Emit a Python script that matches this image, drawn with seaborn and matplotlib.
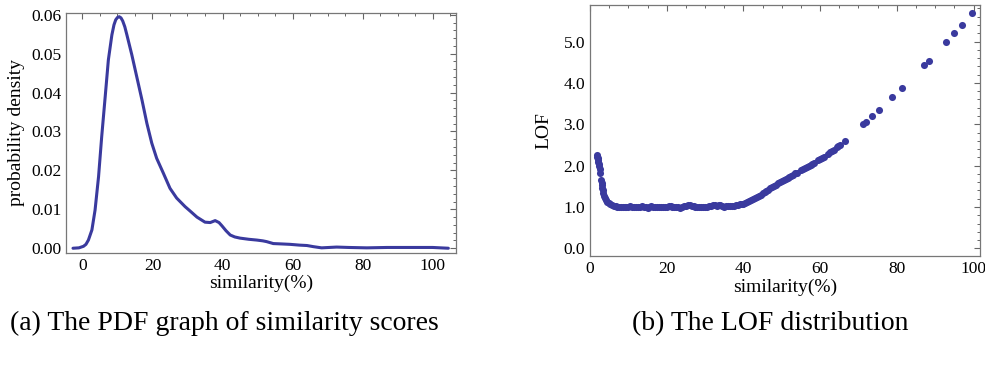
import matplotlib
matplotlib.use("Agg")
import matplotlib.pyplot as plt
from matplotlib.ticker import MultipleLocator, FormatStrFormatter
import pandas as pd
import seaborn as sns

# (a) PDF of similarity scores
pdf_x = [-2.7, -1.0, 0.3, 1.0, 1.7, 2.7, 3.6, 4.6, 5.5, 6.5, 7.4, 8.4, 9.0, 9.5,
         10.0, 10.5, 11.0, 11.5, 12.1, 12.7, 14.1, 15.5, 17.0, 18.4, 19.8, 21.2,
         23.1, 25.0, 26.9, 29.3, 30.7, 32.7, 35.0, 36.5, 37.9, 39.0, 39.8, 41.0,
         42.2, 43.5, 45.0, 47.5, 49.8, 51.5, 52.6, 54.5, 57.0, 59.3, 62.0, 64.1,
         66.0, 68.3, 72.6, 76.0, 81.2, 87.0, 93.0, 100.0, 104.5]
pdf_y = [0.0000, 0.0001, 0.0005, 0.0010, 0.0021, 0.0047, 0.0098, 0.0184, 0.0287,
         0.0390, 0.0484, 0.0548, 0.0574, 0.0587, 0.0593, 0.0595, 0.0592, 0.0584,
         0.0569, 0.0548, 0.0497, 0.0441, 0.0381, 0.0321, 0.0270, 0.0231, 0.0193,
         0.0154, 0.0129, 0.0107, 0.0096, 0.0080, 0.0067, 0.0066, 0.0071, 0.0066,
         0.0058, 0.0045, 0.0034, 0.0029, 0.0026, 0.0023, 0.0021, 0.0019, 0.0017,
         0.0012, 0.0011, 0.0010, 0.0008, 0.0007, 0.0004, 0.0001, 0.0003, 0.0002,
         0.0001, 0.0002, 0.0002, 0.0002, 0.0000]

# (b) LOF vs similarity, one value per dot
lof_x = [1.8, 1.9, 2.0, 2.1, 2.2, 2.3, 2.4, 2.5, 2.7, 2.9, 3.0, 3.1, 3.2, 3.3,
         3.5, 3.7, 3.9, 4.2, 4.5, 4.9, 5.3, 5.8, 6.3, 6.7,
         7.0, 7.5, 8.0, 8.5, 9.0, 9.5, 10.0, 10.5, 11.0, 11.5, 12.0, 12.5, 13.0,
         13.5, 14.0, 14.5, 15.0, 15.5, 16.0, 16.5, 17.0, 17.5, 18.0, 18.5, 19.0,
         19.5, 20.0, 20.5, 21.0, 21.5, 22.0, 22.5, 23.0, 23.5, 24.0, 24.5, 25.0,
         25.5, 26.0, 26.5, 27.0, 27.5, 28.0, 28.5, 29.0, 29.5, 30.0, 30.5, 31.0,
         31.5, 32.0, 32.5, 33.0, 33.5, 34.0, 34.5, 35.0, 35.5, 36.0, 36.5, 37.0,
         37.5, 38.0,
         38.5, 39.0, 39.5, 40.0, 40.5, 41.0, 41.5, 42.0, 42.5, 43.0, 43.5, 44.0,
         44.5, 45.0, 45.5, 46.0, 46.5, 47.0, 47.5, 48.0, 48.5, 49.0, 49.5, 50.0,
         50.5, 51.0, 51.5, 52.0, 52.5, 53.0, 53.5, 54.0, 55.0, 55.5, 56.0, 56.5,
         57.0, 57.5, 58.0, 58.5, 59.5, 60.0, 60.5, 61.0, 62.0, 62.5, 63.0, 63.5,
         64.3, 64.7, 65.2, 66.4,
         71.1, 72.0, 73.5, 75.4, 78.8, 81.3, 87.1, 88.3, 92.9, 95.0, 97.0, 99.6]
lof_y = [2.26, 2.22, 2.18, 2.13, 2.08, 2.03, 1.98, 1.92, 1.81, 1.65, 1.58, 1.52,
         1.46, 1.40, 1.33, 1.27, 1.22, 1.17, 1.13, 1.09, 1.07, 1.05, 1.03, 1.02,
         1.01, 1.00, 1.00, 1.00, 0.99, 1.00, 1.00, 1.02, 1.01, 1.00, 1.00, 0.99,
         1.01, 1.02, 1.01, 0.99, 0.98, 1.00, 1.02, 1.01, 1.00, 0.99, 1.00, 1.01,
         1.00, 1.00, 1.01, 1.02, 1.02, 1.01, 1.00, 1.01, 0.99, 0.98, 1.00, 1.02,
         1.03, 1.04, 1.04, 1.03, 1.02, 1.01, 1.00, 0.99, 0.99, 1.00, 1.00, 1.01,
         1.02, 1.03, 1.04, 1.04, 1.03, 1.04, 1.04, 1.02, 1.01, 1.02, 1.02, 1.02,
         1.03, 1.03, 1.04,
         1.05, 1.06, 1.07, 1.08, 1.10, 1.12, 1.14, 1.16, 1.19, 1.21, 1.24, 1.27,
         1.30, 1.33, 1.36, 1.39, 1.42, 1.45, 1.48, 1.51, 1.54, 1.57, 1.60, 1.62,
         1.65, 1.68, 1.70, 1.73, 1.76, 1.78, 1.81, 1.83, 1.89, 1.92, 1.94, 1.97,
         2.00, 2.02, 2.05, 2.07, 2.13, 2.16, 2.19, 2.22, 2.29, 2.32, 2.35, 2.38,
         2.44, 2.47, 2.51, 2.60,
         3.00, 3.05, 3.20, 3.34, 3.65, 3.87, 4.43, 4.53, 4.98, 5.21, 5.41, 5.69]

captions = ["(a) The PDF graph of similarity scores", "(b) The LOF distribution"]
x_label = "similarity(%)"
y_labels = ["probability density", "LOF"]

COLOR = "#3a3a9e"


def style_axes(ax, xminor, yminor):
    ax.xaxis.set_minor_locator(MultipleLocator(xminor))
    ax.yaxis.set_minor_locator(MultipleLocator(yminor))
    ax.tick_params(which="both", direction="in", top=True, right=True,
                   colors="#666666", labelcolor="black", labelsize=12.5)
    ax.tick_params(which="major", length=4, width=0.8)
    ax.tick_params(which="minor", length=2.5, width=0.7)
    for sp in ax.spines.values():
        sp.set_visible(True)
        sp.set_color("#777777")
        sp.set_linewidth(0.9)
    ax.grid(False)


def main() -> int:
    sns.set_theme(style="white")
    plt.rcParams["font.family"] = ["Liberation Serif", "DejaVu Serif"]
    plt.rcParams["text.color"] = "black"
    plt.rcParams["axes.labelcolor"] = "black"

    fig = plt.figure(figsize=(9.85, 3.66), dpi=100)
    ax1 = fig.add_axes([0.067, 0.309, 0.396, 0.656])
    ax2 = fig.add_axes([0.599, 0.300, 0.396, 0.686])

    pdf = pd.DataFrame({"x": pdf_x, "y": pdf_y})
    sns.lineplot(data=pdf, x="x", y="y", ax=ax1, color=COLOR, linewidth=2.2)
    ax1.set_xlim(-4.7, 106.7)
    ax1.set_ylim(-0.0012, 0.0605)
    ax1.xaxis.set_major_locator(MultipleLocator(20))
    ax1.yaxis.set_major_locator(MultipleLocator(0.01))
    ax1.yaxis.set_major_formatter(FormatStrFormatter("%.2f"))
    style_axes(ax1, 5, 0.002)
    ax1.set_xlabel(x_label, fontsize=14, labelpad=1)
    ax1.set_ylabel(y_labels[0], fontsize=14, labelpad=4)

    lof = pd.DataFrame({"x": lof_x, "y": lof_y})
    sns.scatterplot(data=lof, x="x", y="y", ax=ax2, color=COLOR, s=26,
                    linewidth=0)
    ax2.set_xlim(0, 101.7)
    ax2.set_ylim(-0.19, 5.88)
    ax2.xaxis.set_major_locator(MultipleLocator(20))
    ax2.yaxis.set_major_locator(MultipleLocator(1.0))
    ax2.yaxis.set_major_formatter(FormatStrFormatter("%.1f"))
    style_axes(ax2, 5, 0.2)
    ax2.set_xlabel(x_label, fontsize=14, labelpad=1)
    ax2.set_ylabel(y_labels[1], fontsize=14, labelpad=8)

    fig.text(0.228, 0.115, captions[0], ha="center", va="center", fontsize=20)
    fig.text(0.782, 0.115, captions[1], ha="center", va="center", fontsize=20)

    fig.savefig("out.png", dpi=100, facecolor="white")
    plt.close(fig)
    return 0


if __name__ == "__main__":
    raise SystemExit(main())
